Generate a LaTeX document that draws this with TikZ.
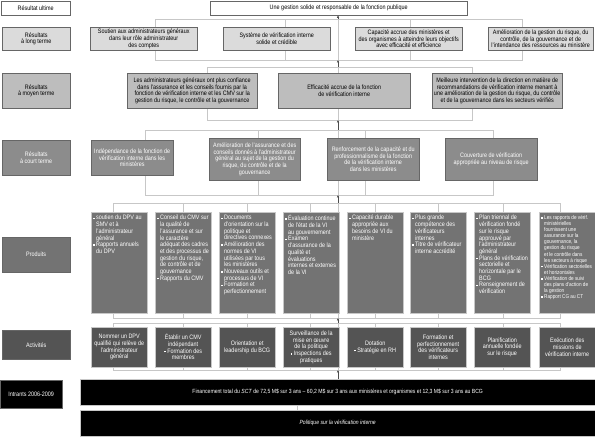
\documentclass[tikz,border=0pt]{standalone}
\usepackage{fontspec}
\setmainfont{Liberation Sans}[FakeStretch=0.85]
\usetikzlibrary{arrows.meta,calc}
\definecolor{framegray}{gray}{0.78}
\definecolor{edgegray}{gray}{0.40}
\definecolor{longfill}{gray}{0.86}
\definecolor{midfill}{gray}{0.74}
\definecolor{shortfill}{gray}{0.55}
\definecolor{prodfill}{gray}{0.45}
\definecolor{actfill}{gray}{0.33}
\newcommand\pb{\rule[0.8pt]{1.5pt}{1.5pt}}
\tikzset{
  frame/.style={draw=framegray, line width=0.6pt},
  spine/.style={draw=black!70, line width=0.5pt, -{Latex[length=2.4pt,width=2.4pt]}},
  txtbox/.style={draw=edgegray, anchor=north west, align=center, inner sep=1pt,
    font=\fontsize{6.4}{6.7}\selectfont},
  lbl/.style={txtbox, minimum width=68pt},
  longbox/.style={txtbox, fill=longfill, minimum width=107pt, minimum height=23pt},
  midbox/.style={txtbox, fill=midfill, minimum height=35pt},
  shortbox/.style={txtbox, fill=shortfill, text=white, minimum height=42pt},
  prodbox/.style={txtbox, draw=framegray, fill=prodfill, minimum width=56pt, minimum height=101pt},
  prodtxt/.style={anchor=north west, inner sep=0pt, text=white, font=\fontsize{6.4}{6.7}\selectfont},
  actbox/.style={txtbox, draw=framegray, fill=actfill, text=white, minimum width=56pt, minimum height=40pt},
  inbox/.style={draw=framegray, fill=black, text=white, anchor=north west, align=center,
    minimum width=515pt, minimum height=26pt, font=\fontsize{6}{6.5}\selectfont}
}
\begin{document}
\begin{tikzpicture}[x=1pt,y=-1pt]
\useasboundingbox (0,0) rectangle (595,442);
%Frames
\draw[frame] (155,19) rectangle (522,60);
\draw[frame] (285,19) -- (285,60);
\draw[frame] (410,19) -- (410,60);
\draw[frame] (207,67) rectangle (472,120);
\draw[frame] (145,130) rectangle (493,195);
\draw[frame] (258,130) -- (258,195);
\draw[frame] (365,130) -- (365,195);
\draw[frame] (113,203) rectangle (560,318);
\foreach \x in {183,247,310,375,438,503} \draw[frame] (\x,203) -- (\x,318);
\draw[frame] (113,323) rectangle (560,370);
\foreach \x in {183,247,310,375,438,503} \draw[frame] (\x,323) -- (\x,370);
\draw[frame] (338,15) -- (338,379);
%Row labels
\node[lbl, fill=white, minimum width=69pt, minimum height=14pt] (lult) at (1,1) {Résultat ultime};
\node[lbl, fill=longfill, minimum height=23pt] (llong) at (2,27) {Résultats\\à long terme};
\node[lbl, fill=midfill, minimum height=35pt] (lmid) at (2,73) {Résultats\\à moyen terme};
\node[lbl, fill=shortfill, text=white, minimum height=35pt] (lshort) at (2,140) {Résultats\\à court terme};
\node[lbl, fill=prodfill, text=white, minimum height=35pt] (lprod) at (2,237) {Produits};
\node[lbl, fill=actfill, text=white, minimum height=29pt] (lact) at (2,330) {Activités};
\node[lbl, fill=black, text=white, minimum width=62pt, minimum height=28pt] (lin) at (0,380) {Intrants 2006-2009};
%Ultimate
\node[txtbox, fill=white, minimum width=257pt, minimum height=14pt] (ult) at (210,1)
  {Une gestion solide et responsable de la fonction publique};
%Long term
\node[longbox] (long1) at (90,27) {Soutien aux administrateurs généraux\\dans leur rôle administrateur\\des comptes};
\node[longbox] (long2) at (223,27) {Système de vérification interne\\solide et crédible};
\node[longbox] (long3) at (355,27) {Capacité accrue des ministères et\\des organismes à atteindre leurs objectifs\\avec efficacité et efficience};
\node[longbox, minimum width=105pt] (long4) at (488,27) {Amélioration de la gestion du risque, du\\contrôle, de la gouvernance et de\\l'intendance des ressources au ministère};
%Mid term
\node[midbox, minimum width=130pt] (mid1) at (127,73) {Les administrateurs généraux ont plus confiance\\dans l'assurance et les conseils fournis par la\\fonction de vérification interne et les CMV sur la\\gestion du risque, le contrôle et la gouvernance};
\node[midbox, minimum width=132pt] (mid2) at (278,73) {Efficacité accrue de la fonction\\de vérification interne};
\node[midbox, minimum width=130pt] (mid3) at (432,73) {Meilleure intervention de la direction en matière de\\recommandations de vérification interne menant à\\une amélioration de la gestion du risque, du contrôle\\et de la gouvernance dans les secteurs vérifiés};
%Short term
\node[shortbox, minimum width=82pt, minimum height=35pt] (short1) at (91,140) {Indépendance de la fonction de\\vérification interne dans les\\ministères};
\node[shortbox, minimum width=91pt] (short2) at (209,138) {Amélioration de l'assurance et des\\conseils donnés à l'administrateur\\général au sujet de la gestion du\\risque, du contrôle et de la\\gouvernance};
\node[shortbox, minimum width=92pt] (short3) at (327,138) {Renforcement de la capacité et du\\professionnalisme de la fonction\\de la vérification interne\\dans les ministères};
\node[shortbox, minimum width=92pt] (short4) at (445,138) {Couverture de vérification\\appropriée au niveau de risque};
%Products
\node[prodbox] (p1) at (91,212) {};
\node[prodbox] (p2) at (155,212) {};
\node[prodbox] (p3) at (219,212) {};
\node[prodbox] (p4) at (283,212) {};
\node[prodbox] (p5) at (347,212) {};
\node[prodbox] (p6) at (410,212) {};
\node[prodbox] (p7) at (474,212) {};
\node[prodbox] (p8) at (539,212) {};
\node[prodtxt] (t1) at ([shift={(2pt,-3pt)}]p1.north west) {\begin{tabular}{@{}l@{\hspace{1.5pt}}l@{}}
\pb & soutien du DPV au\\ & SMV et à\\ & l'administrateur\\ & général\\
\pb & Rapports annuels\\ & du DPV\end{tabular}};
\node[prodtxt] (t2) at ([shift={(2pt,-3pt)}]p2.north west) {\begin{tabular}{@{}l@{\hspace{1.5pt}}l@{}}
\pb & Conseil du CMV sur\\ & la qualité de\\ & l'assurance et sur\\ & le caractère\\ & adéquat des cadres\\ & et des processus de\\ & gestion du risque,\\ & de contrôle et de\\ & gouvernance\\
\pb & Rapports du CMV\end{tabular}};
\node[prodtxt] (t3) at ([shift={(2pt,-3pt)}]p3.north west) {\begin{tabular}{@{}l@{\hspace{1.5pt}}l@{}}
\pb & Documents\\ & d'orientation sur la\\ & politique et\\ & directives connexes\\
\pb & Amélioration des\\ & normes de VI\\ & utilisées par tous\\ & les ministères\\
\pb & Nouveaux outils et\\ & processus de VI\\
\pb & Formation et\\ & perfectionnement\end{tabular}};
\node[prodtxt] (t4) at ([shift={(2pt,-3pt)}]p4.north west) {\begin{tabular}{@{}l@{\hspace{1.5pt}}l@{}}
\pb & Évaluation continue\\ & de l'état de la VI\\ & au gouvernement\\
\pb & Examen\\ & d'assurance de la\\ & qualité et\\ & évaluations\\ & internes et externes\\ & de la VI\end{tabular}};
\node[prodtxt] (t5) at ([shift={(2pt,-3pt)}]p5.north west) {\begin{tabular}{@{}l@{\hspace{1.5pt}}l@{}}
\pb & Capacité durable\\ & appropriée aux\\ & besoins de VI du\\ & ministère\end{tabular}};
\node[prodtxt] (t6) at ([shift={(2pt,-3pt)}]p6.north west) {\begin{tabular}{@{}l@{\hspace{1.5pt}}l@{}}
\pb & Plus grande\\ & compétence des\\ & vérificateurs\\ & internes\\
\pb & Titre de vérificateur\\ & interne accrédité\end{tabular}};
\node[prodtxt] (t7) at ([shift={(2pt,-3pt)}]p7.north west) {\begin{tabular}{@{}l@{\hspace{1.5pt}}l@{}}
\pb & Plan triennal de\\ & vérification fondé\\ & sur le risque\\ & approuvé par\\ & l'administrateur\\ & général\\
\pb & Plans de vérification\\ & sectorielle et\\ & horizontale par le\\ & BCG\\
\pb & Renseignement de\\ & vérification\end{tabular}};
\node[prodtxt, font=\fontsize{5.5}{6.1}\selectfont] (t8) at ([shift={(2pt,-3pt)}]p8.north west) {\begin{tabular}{@{}l@{\hspace{1.5pt}}l@{}}
\pb & Les rapports de vérif.\\ & ministérielles\\ & fournissent une\\ & assurance sur la\\ & gouvernance, la\\ & gestion du risque\\ & et le contrôle dans\\ & les secteurs à risque\\
\pb & Vérification sectorielles\\ & et horizontales\\
\pb & Vérification de suivi\\ & des plans d'action de\\ & la gestion\\
\pb & Rapport CG au CT\end{tabular}};
%Activities
\node[actbox] (a1) at (91,327) {Nommer un DPV\\qualifié qui relève de\\l'administrateur\\général};
\node[actbox] (a2) at (155,327) {Établir un CMV\\indépendant\\\pb~Formation des\\membres};
\node[actbox] (a3) at (219,327) {Orientation et\\leadership du BCG};
\node[actbox] (a4) at (283,327) {Surveillance de la\\mise en œuvre\\de la politique\\\pb~Inspections des\\pratiques};
\node[actbox] (a5) at (347,327) {Dotation\\\pb~Stratégie en RH};
\node[actbox] (a6) at (410,327) {Formation et\\perfectionnement\\des vérificateurs\\internes};
\node[actbox] (a7) at (474,327) {Planification\\annuelle fondée\\sur le risque};
\node[actbox] (a8) at (539,327) {Exécution des\\missions de\\vérification interne};
%Inputs
\node[inbox] (fund) at (80,379) {Financement total du \textit{SCT} de 72,5 M\$ sur 3 ans -- 60,2 M\$ sur 3 ans aux ministères et organismes et 12,3 M\$ sur 3 ans au BCG};
\node[inbox] (pol) at (80,410) {\textit{Politique sur la vérification interne}};
%Spine arrows
\coordinate (ltop) at (338,19);
\coordinate (lbot) at (338,60);
\coordinate (mtop) at (338,67);
\coordinate (mbot) at (338,120);
\coordinate (stop) at (338,130);
\coordinate (sbot) at (338,195);
\coordinate (ptop) at (338,203);
\coordinate (pbot) at (338,318);
\coordinate (atop) at (338,323);
\coordinate (abot) at (338,370);
\draw[spine] (ltop) -- (ltop |- ult.south);
\draw[spine] (mtop) -- (lbot);
\draw[spine] (stop) -- (mbot);
\draw[spine] (ptop) -- (sbot);
\draw[spine] (atop) -- (pbot);
\draw[spine] (abot |- fund.north) -- (abot);
\draw[frame, line width=0.4pt] (pol.north -| 297,0) -- (fund.south -| 297,0);
\end{tikzpicture}
\end{document}
